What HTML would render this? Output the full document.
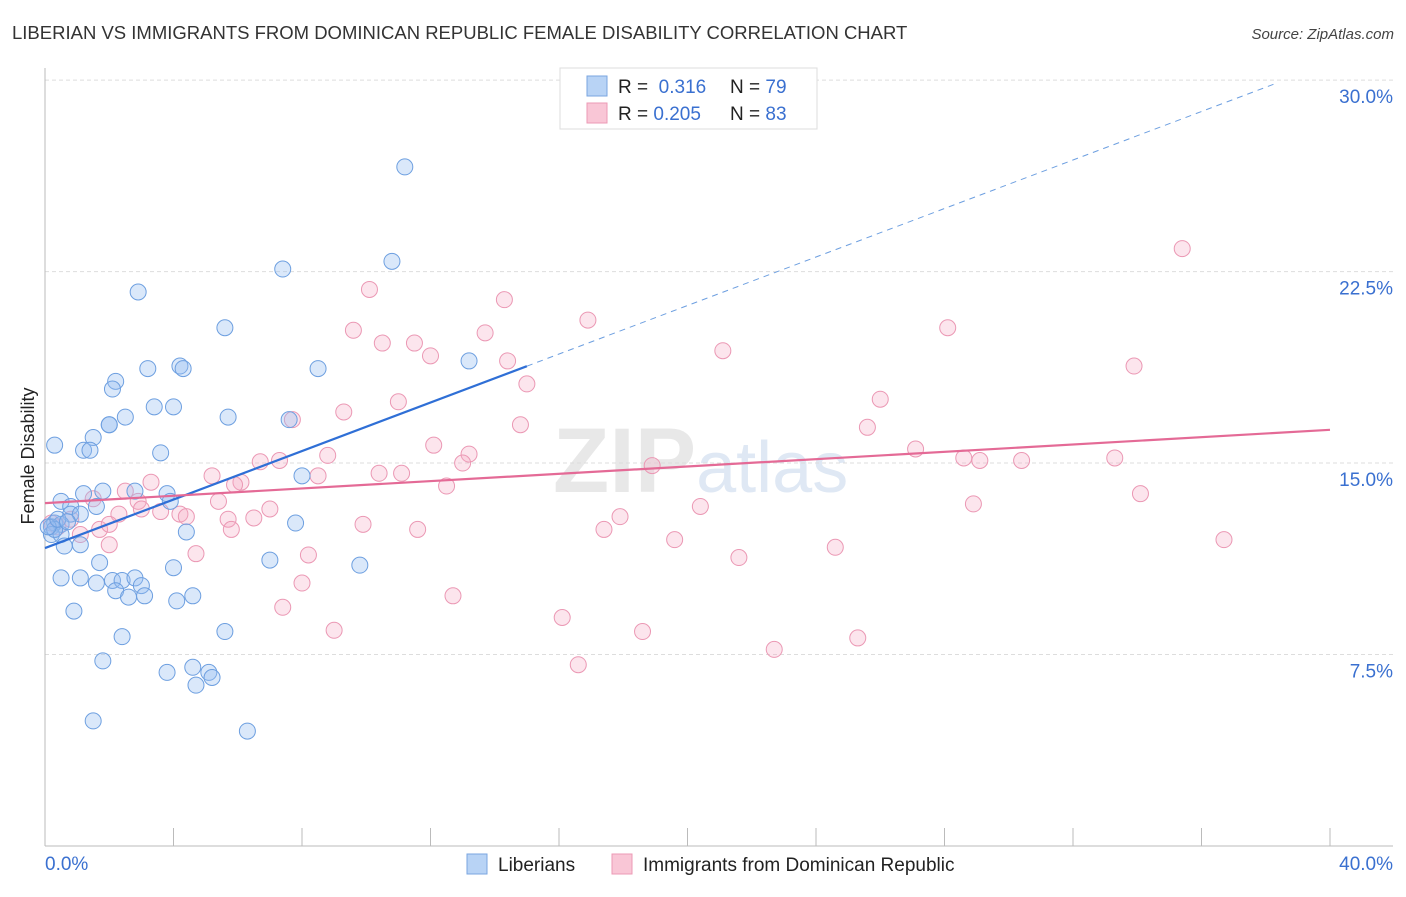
<!DOCTYPE html>
<html><head><meta charset="utf-8"><style>
body{margin:0;background:#fff;font-family:"Liberation Sans",sans-serif;}
svg text{font-family:"Liberation Sans",sans-serif;}
</style></head><body>
<svg id="chart" width="1406" height="892" xmlns="http://www.w3.org/2000/svg">
<text x="12" y="39" font-size="18.5" fill="#333">LIBERIAN VS IMMIGRANTS FROM DOMINICAN REPUBLIC FEMALE DISABILITY CORRELATION CHART</text>
<text x="1394" y="39" font-size="15" fill="#444" font-style="italic" text-anchor="end">Source: ZipAtlas.com</text>
<text x="553" y="492" font-size="92" fill="#e8e8e8" font-family="Liberation Serif,serif" font-weight="bold">ZIP<tspan fill="#dfe8f4" font-family="Liberation Sans,sans-serif" font-weight="normal" font-size="72">atlas</tspan></text>
<g id="grid"></g><g id="axes"></g><g id="pink"></g><g id="blue"></g><g id="lines"></g>
<text x="34" y="456" font-size="18" fill="#222" transform="rotate(-90 34 456)" text-anchor="middle">Female Disability</text>
<text x="45" y="870" font-size="19" fill="#3a70d0">0.0%</text>
<text x="1393" y="870" font-size="19" fill="#3a70d0" text-anchor="end">40.0%</text>
<g>
<rect x="560" y="68" width="257" height="61" fill="#fff" stroke="#ddd"/>
<rect x="587" y="76" width="20" height="20" fill="#b8d3f5" stroke="#7aa6e0"/>
<rect x="587" y="103" width="20" height="20" fill="#f9c6d6" stroke="#ec9ab5"/>
<text x="618" y="93" font-size="19" fill="#222">R = <tspan fill="#3a70d0">&#160;0.316</tspan><tspan x="730">N = </tspan><tspan fill="#3a70d0">79</tspan></text>
<text x="618" y="120" font-size="19" fill="#222">R = <tspan fill="#3a70d0">0.205</tspan><tspan x="730">N = </tspan><tspan fill="#3a70d0">83</tspan></text>
</g>
<g>
<rect x="467" y="854" width="20" height="20" fill="#b8d3f5" stroke="#7aa6e0"/>
<text x="498" y="871" font-size="19" fill="#222">Liberians</text>
<rect x="612" y="854" width="20" height="20" fill="#f9c6d6" stroke="#ec9ab5"/>
<text x="643" y="871" font-size="19" fill="#222">Immigrants from Dominican Republic</text>
</g>
</svg>
<script>
const yTicks=[7.5,15,22.5,30];
const yTickLabels=["7.5%","15.0%","22.5%","30.0%"];
const xTicks=[0,4,8,12,16,20,24,28,32,36,40];
const blueX=[11.2,10.8,7.4,2.9,5.6,13.2,4.2,4.3,3.2,8.5,2.2,2.1,4.0,3.4,5.7,7.6,2.5,2.0,2.0,1.5,0.3,1.2,1.4,3.6,8.0,1.8,1.2,2.8,3.8,3.9,0.5,0.8,1.6,0.8,1.1,0.3,0.5,0.2,0.2,0.5,0.6,1.1,7.8,4.4,1.7,7.0,9.8,4.0,0.5,1.1,1.6,2.1,2.4,2.8,3.0,2.2,2.6,3.1,4.6,4.1,0.9,2.4,5.6,1.8,3.8,4.6,5.1,5.2,4.7,1.5,6.3,0.3,0.1,0.4,0.7];
const blueY=[26.6,22.9,22.6,21.7,20.3,19.0,18.8,18.7,18.7,18.7,18.2,17.9,17.2,17.2,16.8,16.7,16.8,16.5,16.5,16.0,15.7,15.5,15.5,15.4,14.5,13.9,13.8,13.9,13.8,13.5,13.5,13.3,13.3,13.0,13.0,12.65,12.6,12.5,12.2,12.2,11.75,11.8,12.65,12.3,11.1,11.2,11.0,10.9,10.5,10.5,10.3,10.4,10.4,10.5,10.2,10.0,9.75,9.8,9.8,9.6,9.2,8.2,8.4,7.25,6.8,7.0,6.8,6.6,6.3,4.9,4.5,12.4,12.5,12.8,12.7];
const pinkX=[35.4,10.1,14.3,16.9,9.6,28.1,10.5,11.5,13.7,12.0,21.1,14.4,33.9,15.0,26.0,11.0,9.3,7.7,14.8,25.6,12.1,27.1,8.8,13.2,13.0,28.6,29.1,30.4,33.3,6.7,7.3,18.9,5.2,10.4,11.1,8.5,6.1,12.5,5.9,3.3,2.5,34.1,1.5,2.9,5.4,28.9,3.0,20.4,7.0,3.6,4.2,4.4,2.3,17.9,5.7,6.5,9.9,11.6,17.4,1.7,1.1,0.4,19.6,2.0,24.6,36.7,4.7,8.2,21.6,8.0,12.7,7.4,16.1,9.0,18.6,25.3,22.7,16.6,5.8,0.8,0.2,2.0];
const pinkY=[23.4,21.8,21.4,20.6,20.2,20.3,19.7,19.7,20.1,19.2,19.4,19.0,18.8,18.1,17.5,17.4,17.0,16.7,16.5,16.4,15.7,15.55,15.3,15.35,15.0,15.2,15.1,15.1,15.2,15.05,15.1,14.9,14.5,14.6,14.6,14.5,14.25,14.1,14.15,14.25,13.9,13.8,13.6,13.5,13.5,13.4,13.2,13.3,13.2,13.1,13.0,12.9,13.0,12.9,12.8,12.85,12.6,12.4,12.4,12.4,12.2,12.5,12.0,11.8,11.7,12.0,11.45,11.4,11.3,10.3,9.8,9.35,8.95,8.45,8.4,8.15,7.7,7.1,12.4,12.8,12.65,12.6];
const blueTrend=[11.67,0.475];   // intercept, slope
const pinkTrend=[13.43,0.0718];
const blueSolidEnd=15.0, blueDashEnd=38.3;

const NS="http://www.w3.org/2000/svg";
const xs=v=>45+v*32.125, ys=v=>846-v*25.53;
function mk(tag,attrs,parent){const e=document.createElementNS(NS,tag);for(const k in attrs)e.setAttribute(k,attrs[k]);document.getElementById(parent).appendChild(e);return e;}
yTicks.forEach((t,i)=>{
 const l=mk('line',{x1:45,x2:1393,y1:ys(t),y2:ys(t),stroke:'#ddd','stroke-dasharray':'4,3'},'grid');
 
 
 const tx=mk('text',{x:1393,y:ys(t)+23,'font-size':19,fill:'#3a70d0','text-anchor':'end'},'grid');
 tx.textContent=yTickLabels[i];
 
 
});
const ya=mk('line',{x1:45,x2:45,y1:68,y2:846,stroke:'#bbb'},'axes');


const xa=mk('line',{x1:45,x2:1393,y1:846,y2:846,stroke:'#bbb'},'axes');


xTicks.forEach(t=>{
 const l=mk('line',{x1:xs(t),x2:xs(t),y1:828,y2:846,stroke:'#bbb'},'axes');
 
 
});
pinkX.forEach((x,i)=>{
 const c=mk('circle',{cx:xs(x),cy:ys(pinkY[i]),r:8,fill:'rgba(246,170,196,0.3)',stroke:'#eb98b4','stroke-width':1},'pink');
 
 
});
blueX.forEach((x,i)=>{
 const c=mk('circle',{cx:xs(x),cy:ys(blueY[i]),r:8,fill:'rgba(150,190,240,0.35)',stroke:'#6d9fe0','stroke-width':1},'blue');
 
 
});
const bt=v=>blueTrend[0]+blueTrend[1]*v, pt=v=>pinkTrend[0]+pinkTrend[1]*v;
const bs=mk('line',{x1:xs(0),y1:ys(bt(0)),x2:xs(blueSolidEnd),y2:ys(bt(blueSolidEnd)),stroke:'#2f6fd6','stroke-width':2.2},'lines');


const bd=mk('line',{x1:xs(blueSolidEnd),y1:ys(bt(blueSolidEnd)),x2:xs(blueDashEnd),y2:ys(bt(blueDashEnd)),stroke:'#6d9fe0','stroke-width':1,'stroke-dasharray':'6,5'},'lines');


const pl=mk('line',{x1:xs(0),y1:ys(pt(0)),x2:xs(40),y2:ys(pt(40)),stroke:'#e46a96','stroke-width':2.2},'lines');


</script>
</body></html>
